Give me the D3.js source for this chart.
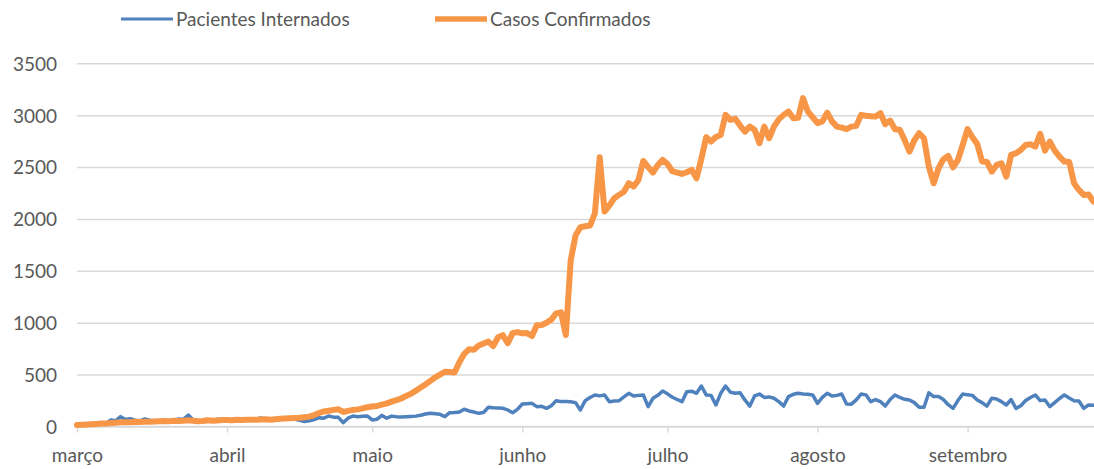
<!DOCTYPE html>
<html>
<head>
<meta charset="utf-8">
<script src="https://cdn.jsdelivr.net/npm/d3@7"></script>
<style>
  body { margin: 0; background: #fff; }
  #chart text { font-family: Lato, "Noto Sans", sans-serif; fill: #595959; }
</style>
</head>
<body>
<div id="chart"></div>
<script>
// Daily series, starting 1 March 2020
const startDate = new Date(2020, 2, 1);

const casosConfirmados = [
  15, 18, 20, 22, 25, 28, 30, 33, 36, 40,
  42, 40, 45, 44, 47, 45, 48, 50, 52, 50,
  55, 52, 56, 60, 55, 50, 53, 60, 55, 58, 62,
  63, 60, 65, 62, 64, 66, 65, 68, 70, 66,
  70, 75, 78, 80, 82, 85, 90, 95, 110, 130,
  145, 152, 160, 166, 140, 150, 160, 165, 175, 185,
  192, 198, 210, 223, 240, 255, 270, 295, 315, 345,
  375, 405, 440, 474, 500, 528, 525, 520, 620, 700,
  744, 740, 780, 800, 818, 776, 860, 880, 802, 900,
  910, 898, 900, 872, 975, 978, 1000, 1030, 1090, 1100,
  880, 1600, 1840, 1920, 1930, 1936, 2055, 2595, 2071, 2130,
  2200, 2232, 2263, 2344, 2312, 2376, 2559, 2500, 2447, 2520,
  2569, 2530, 2460, 2447, 2434, 2450, 2473, 2392, 2580, 2788,
  2746, 2790, 2810, 3003, 2955, 2965, 2900, 2842, 2890, 2860,
  2730, 2890, 2778, 2890, 2960, 3003, 3035, 2970, 2975, 3164,
  3035, 2980, 2923, 2940, 3025, 2940, 2890, 2880, 2865, 2890,
  2897, 3003, 2995, 2990, 2987, 3019, 2913, 2948, 2865, 2860,
  2760, 2649, 2758, 2826, 2778, 2504, 2344, 2489, 2575, 2607,
  2498, 2568, 2713, 2865, 2788, 2723, 2553, 2550, 2456, 2521,
  2537, 2408, 2617, 2633, 2665, 2713, 2720, 2697, 2820, 2659,
  2746, 2659, 2601, 2553, 2550, 2344, 2280, 2232, 2235, 2167
];

const pacientesInternados = [
  10, 12, 15, 20, 22, 25, 30, 63, 55, 95,
  67, 75, 60, 55, 73, 60, 55, 53, 50, 52,
  55, 73, 70, 111, 63, 55, 50, 55, 52, 70, 73,
  60, 58, 60, 62, 60, 65, 70, 83, 70, 65,
  68, 70, 72, 75, 70, 60, 47, 55, 67, 85,
  80, 101, 90, 88, 37, 80, 101, 95, 98, 100,
  63, 70, 107, 80, 100, 95, 92, 95, 97, 100,
  108, 120, 127, 122, 117, 96, 133, 135, 140, 166,
  150, 140, 127, 135, 185, 180, 178, 175, 160, 133,
  165, 217, 220, 223, 191, 195, 175, 200, 249, 240,
  240, 239, 230, 159, 249, 280, 304, 295, 304, 239,
  245, 249, 285, 320, 294, 300, 304, 191, 272, 300,
  342, 315, 282, 260, 239, 336, 340, 320, 390, 304,
  300, 207, 320, 390, 330, 320, 325, 256, 197, 294,
  313, 280, 285, 272, 240, 197, 288, 310, 320, 313,
  310, 304, 223, 280, 320, 294, 300, 313, 217, 215,
  256, 313, 305, 239, 260, 240, 197, 260, 304, 280,
  262, 255, 230, 185, 185, 325, 288, 290, 260, 210,
  175, 250, 313, 305, 300, 256, 230, 197, 272, 265,
  240, 207, 260, 175, 200, 250, 280, 304, 250, 255,
  191, 230, 270, 304, 275, 249, 245, 175, 207, 205
];

const monthLabels = ["março", "abril", "maio", "junho", "julho", "agosto", "setembro"];
const yTicks = [0, 500, 1000, 1500, 2000, 2500, 3000, 3500];

const series = [
  { name: "Pacientes Internados", values: pacientesInternados, color: "#4F81BD", width: 3.5 },
  { name: "Casos Confirmados", values: casosConfirmados, color: "#F79646", width: 6 }
];

const width = 1094, height = 469;
const plotLeft = 77, plotRight = 1094, plotTop = 63.3, plotBottom = 426.5;

const svg = d3.select("#chart").append("svg")
  .attr("width", width)
  .attr("height", height);

const lastDate = d3.timeDay.offset(startDate, casosConfirmados.length - 1);
const x = d3.scaleTime()
  .domain([startDate, lastDate])
  .range([plotLeft, plotLeft + 4.84 * (casosConfirmados.length - 1)]);

const y = d3.scaleLinear()
  .domain([0, 3500])
  .range([plotBottom, plotTop]);

// Horizontal gridlines + y labels
const yAxis = d3.axisLeft(y)
  .tickValues(yTicks)
  .tickSize(-(plotRight - plotLeft))
  .tickPadding(20)
  .tickFormat(d3.format("d"));

svg.append("g")
  .attr("transform", `translate(${plotLeft},0)`)
  .call(yAxis)
  .call(g => g.select(".domain").remove())
  .call(g => g.selectAll(".tick line").attr("stroke", "#d9d9d9").attr("stroke-width", 1.5))
  .call(g => g.selectAll(".tick text").attr("font-size", 19).attr("dy", "0.36em"));

// X axis, one tick per month
const months = d3.timeMonth.range(startDate, lastDate);
const xAxis = d3.axisBottom(x)
  .tickValues(months)
  .tickSize(6)
  .tickPadding(16)
  .tickFormat((d, i) => monthLabels[i]);

svg.append("g")
  .attr("transform", `translate(0,${plotBottom})`)
  .call(xAxis)
  .call(g => g.select(".domain").attr("d", `M${plotLeft},0H${plotRight}`).attr("stroke", "#d9d9d9").attr("stroke-width", 1.5))
  .call(g => g.selectAll(".tick line").attr("stroke", "#d9d9d9").attr("stroke-width", 1.5))
  .call(g => g.selectAll(".tick text").attr("font-size", 19));

// Lines
const line = d3.line()
  .x((d, i) => x(d3.timeDay.offset(startDate, i)))
  .y(d => y(d));

svg.append("g")
  .selectAll("path")
  .data(series)
  .enter()
  .append("path")
  .attr("d", d => line(d.values))
  .attr("fill", "none")
  .attr("stroke", d => d.color)
  .attr("stroke-width", d => d.width)
  .attr("stroke-linejoin", "round")
  .attr("stroke-linecap", "round");

// Legend
const legendX = [121, 435];
const legend = svg.append("g")
  .selectAll("g")
  .data(series)
  .enter()
  .append("g")
  .attr("transform", (d, i) => `translate(${legendX[i]},19)`);

legend.append("line")
  .attr("x1", 0).attr("x2", 52)
  .attr("stroke", d => d.color)
  .attr("stroke-width", d => d.width - 0.5);

legend.append("text")
  .attr("x", 55)
  .attr("dy", "0.35em")
  .attr("font-size", 19)
  .text(d => d.name);
</script>
</body>
</html>
